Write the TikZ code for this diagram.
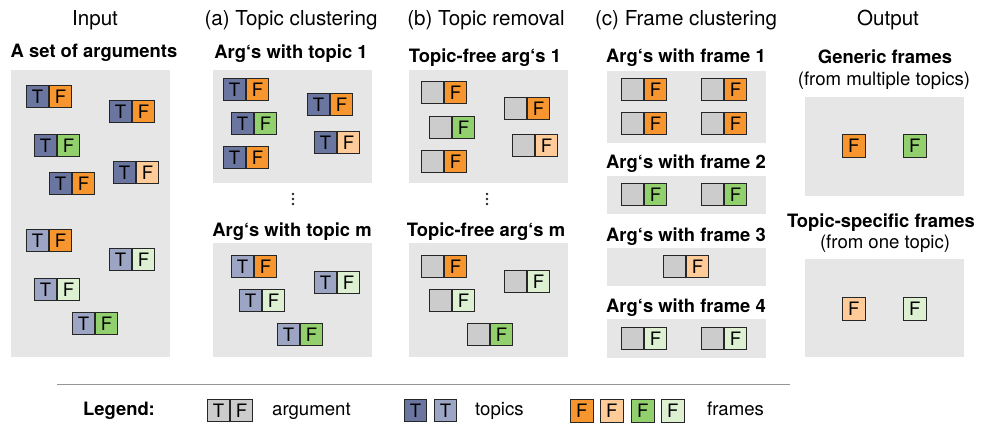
\documentclass[tikz,border=0pt]{standalone}
\usepackage{fontspec}
\setmainfont{TeX Gyre Heros}
\definecolor{bggray}{RGB}{230,230,230}
\definecolor{cgray}{RGB}{204,204,204}
\definecolor{tdark}{RGB}{106,118,160}
\definecolor{tlight}{RGB}{157,165,197}
\definecolor{forange}{RGB}{247,150,47}
\definecolor{florange}{RGB}{255,204,153}
\definecolor{fgreen}{RGB}{146,208,110}
\definecolor{flgreen}{RGB}{221,240,210}
\definecolor{rulegray}{RGB}{150,150,150}
\newcommand\argpair[6]{%
  \node[cell, fill=#4, anchor=north west] (#1t) at (#2,#3) {#6};
  \node[cell, fill=#5, anchor=west] (#1f) at (#1t.east) {F};}
\newcommand\fcell[4]{%
  \node[cell, minimum size=22.5pt, fill=#4, anchor=north west] (#1) at (#2,#3) {F};}
\begin{document}
\begin{tikzpicture}[x=1pt,y=-1pt,
  cell/.style={draw=black!85, line width=1.2pt, minimum size=21.8pt, inner sep=0pt,
    font=\fontsize{18.5}{20}\selectfont},
  panel/.style={fill=bggray},
  title/.style={anchor=base, inner sep=0pt, font=\fontsize{20.6}{24}\selectfont},
  sub/.style={anchor=base, inner sep=0pt, font=\bfseries\fontsize{18.4}{22}\selectfont},
  note/.style={anchor=base, inner sep=0pt, font=\fontsize{18.6}{22}\selectfont},
  dot/.style={fill=black!85}]
\useasboundingbox (0,0) rectangle (985,424);
% panels
\path[panel] (11,70) rectangle (170,357);
\path[panel] (213,70) rectangle (372,183);
\path[panel] (213,243) rectangle (372,357);
\path[panel] (409,70) rectangle (568,183);
\path[panel] (409,243) rectangle (568,357);
\path[panel] (607,71) rectangle (766,143);
\path[panel] (607,176) rectangle (766,214);
\path[panel] (607,248) rectangle (766,286);
\path[panel] (607,319) rectangle (766,358);
\path[panel] (805,97) rectangle (964,196);
\path[panel] (805,259) rectangle (964,357);
% titles
\node[title] (tin) at (95,25) {Input};
\node[title] (ta) at (291,25) {(a) Topic clustering};
\node[title] (tb) at (486,25) {(b) Topic removal};
\node[title] (tc) at (686,25) {(c) Frame clustering};
\node[title] (tout) at (888,25) {Output};
% subtitles
\node[sub] (sin) at (94,57) {A set of arguments};
\node[sub] (sa1) at (291,58) {Arg‘s with topic 1};
\node[sub] (sam) at (292,236) {Arg‘s with topic m};
\node[sub] (sb1) at (485,62) {Topic-free arg‘s 1};
\node[sub] (sbm) at (486,236) {Topic-free arg‘s m};
\node[sub] (sc1) at (686,62) {Arg‘s with frame 1};
\node[sub] (sc2) at (686,168) {Arg‘s with frame 2};
\node[sub] (sc3) at (686,241) {Arg‘s with frame 3};
\node[sub] (sc4) at (686,312) {Arg‘s with frame 4};
\node[sub] (so1) at (885,63) {Generic frames};
\node[note] (so1n) at (884,85) {(from multiple topics)};
\node[sub] (so2) at (881,227) {Topic-specific frames};
\node[note] (so2n) at (885,248) {(from one topic)};
% dots
\foreach \yy in {194,199,204} {
  \fill[dot] (293,\yy) circle (1.3pt);
  \fill[dot] (487,\yy) circle (1.3pt);
}
% input
\argpair{i1}{26}{85}{tdark}{forange}{T}
\argpair{i2}{109}{100}{tdark}{forange}{T}
\argpair{i3}{34}{134}{tdark}{fgreen}{T}
\argpair{i4}{113}{161}{tdark}{florange}{T}
\argpair{i5}{49}{172}{tdark}{forange}{T}
\argpair{i6}{26}{229}{tlight}{forange}{T}
\argpair{i7}{109}{248}{tlight}{flgreen}{T}
\argpair{i8}{34}{278}{tlight}{flgreen}{T}
\argpair{i9}{72}{312}{tlight}{fgreen}{T}
% (a)
\argpair{a1}{223}{78}{tdark}{forange}{T}
\argpair{a2}{307}{93}{tdark}{forange}{T}
\argpair{a3}{231}{112}{tdark}{fgreen}{T}
\argpair{a4}{314}{131}{tdark}{florange}{T}
\argpair{a5}{223}{146}{tdark}{forange}{T}
\argpair{m1}{231}{255}{tlight}{forange}{T}
\argpair{m2}{314}{271}{tlight}{flgreen}{T}
\argpair{m3}{239}{289}{tlight}{flgreen}{T}
\argpair{m4}{277}{323}{tlight}{fgreen}{T}
% (b)
\argpair{b1}{421}{81}{cgray}{forange}{}
\argpair{b2}{504}{97}{cgray}{forange}{}
\argpair{b3}{429}{116}{cgray}{fgreen}{}
\argpair{b4}{512}{134}{cgray}{florange}{}
\argpair{b5}{421}{150}{cgray}{forange}{}
\argpair{n1}{421}{255}{cgray}{forange}{}
\argpair{n2}{504}{270}{cgray}{flgreen}{}
\argpair{n3}{429}{289}{cgray}{flgreen}{}
\argpair{n4}{467}{323}{cgray}{fgreen}{}
% (c)
\argpair{c1}{621}{78}{cgray}{forange}{}
\argpair{c2}{701}{78}{cgray}{forange}{}
\argpair{c3}{621}{112}{cgray}{forange}{}
\argpair{c4}{701}{112}{cgray}{forange}{}
\argpair{d1}{621}{183}{cgray}{fgreen}{}
\argpair{d2}{701}{183}{cgray}{fgreen}{}
\argpair{e1}{663}{255}{cgray}{florange}{}
\argpair{g1}{621}{327}{cgray}{flgreen}{}
\argpair{g2}{701}{327}{cgray}{flgreen}{}
% output
\fcell{o1}{842}{134}{forange}
\fcell{o2}{903}{134}{fgreen}
\fcell{o3}{842}{297}{florange}
\fcell{o4}{903}{297}{flgreen}
% legend
\coordinate (ruleL) at (57,384);
\coordinate (ruleR) at (790,384);
\draw[rulegray, line width=1pt] (ruleL) -- (ruleR);
\node[sub] (leg) at (119,415) {Legend:};
\argpair{lg}{207}{399}{cgray}{cgray}{T}
\node[note, anchor=base west] (largs) at (272,415) {argument};
\node[cell, fill=tdark, anchor=north west] (lt1) at (404,399) {T};
\node[cell, fill=tlight, anchor=north west] (lt2) at (434,399) {T};
\node[note, anchor=base west] (ltop) at (475,415) {topics};
\fcell{lf1}{570}{399}{forange}
\fcell{lf2}{600}{399}{florange}
\fcell{lf3}{631}{399}{fgreen}
\fcell{lf4}{661}{399}{flgreen}
\node[note, anchor=base west] (lfr) at (707,415) {frames};
\end{tikzpicture}
\end{document}
